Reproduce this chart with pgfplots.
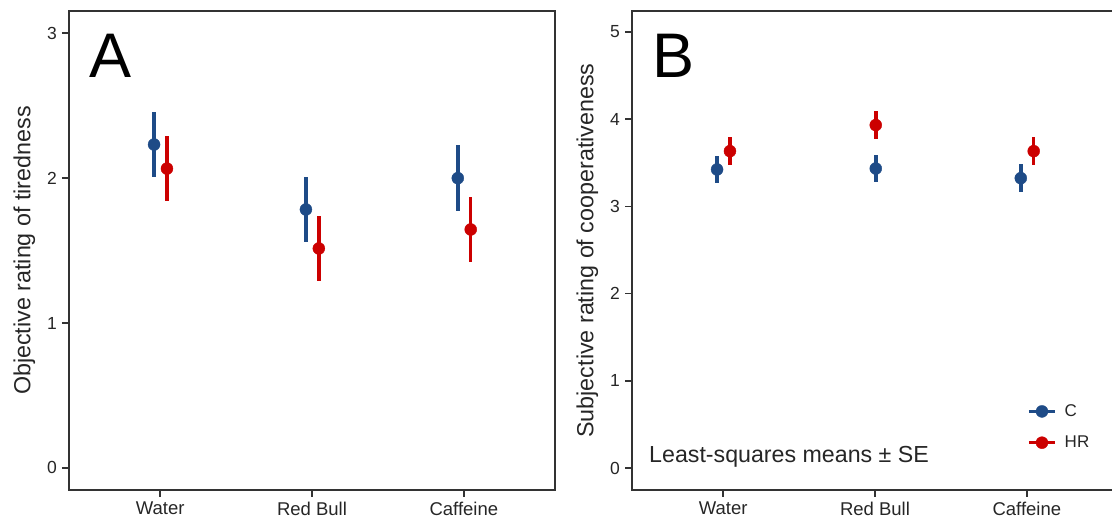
\documentclass[border=0pt]{standalone}
\usepackage{fontspec}
\setmainfont{Liberation Sans}
\usepackage{pgfplots}
\usepackage{pgfplotstable}
\pgfplotsset{compat=1.18}

\definecolor{grpC}{RGB}{30,75,135}
\definecolor{grpHR}{RGB}{204,0,0}
\definecolor{frame}{RGB}{51,51,51}

% Least-squares means and SE; x = category index plus dodge offset
\pgfplotstableread{
x      y     e
-0.040 2.231 0.226
0.960  1.783 0.226
1.960  1.999 0.228
}\tiredC
\pgfplotstableread{
x      y     e
0.045  2.065 0.226
1.045  1.514 0.224
2.045  1.645 0.226
}\tiredHR
\pgfplotstableread{
x      y     e
-0.040 3.423 0.157
1.005  3.434 0.157
1.960  3.323 0.159
}\coopC
\pgfplotstableread{
x      y     e
0.045  3.633 0.159
1.005  3.932 0.157
2.045  3.633 0.161
}\coopHR

\tikzset{panel letter/.style={font=\fontsize{63}{70}\selectfont, inner sep=0pt, anchor=base west}}

\pgfplotsset{
  panel/.style={
    scale only axis, width=486pt, height=479pt,
    axis line style={line width=1.8pt, draw=frame},
    xmin=-0.6, xmax=2.6, xtick={0,1,2},
    xticklabels={Water,Red Bull,Caffeine},
    tick pos=left, tick align=outside, major tick length=7pt,
    tick style={line width=1.4pt, draw=frame},
    xticklabel style={font=\fontsize{18.5}{22}\selectfont, text=black!85, inner sep=5pt},
    yticklabel style={font=\fontsize{17.5}{20}\selectfont, text=black!85, inner sep=5pt},
    /pgf/number format/assume math mode=true,
    every axis y label/.style={at={(axis description cs:-0.092,0.5)},
      rotate=90, anchor=center, font=\fontsize{23.3}{27}\selectfont, text=black!85},
    clip=false,
  },
  pr/.style={color=#1, only marks, mark=*, mark size=6pt,
    mark options={fill=#1, draw=#1, line width=0.4pt},
    error bars/y dir=both, error bars/y explicit, error bars/error mark=none,
    error bars/error bar style={line width=3.5pt, color=#1}},
}

\begin{document}
\begin{tikzpicture}
\useasboundingbox (0,0) rectangle (1112pt,522pt);

% Panel A: objective tiredness
\begin{axis}[panel, at={(69pt,32pt)}, anchor=south west,
  ymin=-0.152, ymax=3.152, ytick={0,1,2,3},
  ylabel={Objective rating of tiredness}]
  \addplot+[forget plot, pr=grpC] table[x=x, y=y, y error=e] {\tiredC};
  \addplot+[forget plot, pr=grpHR] table[x=x, y=y, y error=e] {\tiredHR};
  \node[panel letter] at (rel axis cs:0.041,0.862) {A};
\end{axis}

% Panel B: subjective cooperativeness
\begin{axis}[panel, at={(632pt,32pt)}, anchor=south west,
  ymin=-0.252, ymax=5.24, ytick={0,1,2,3,4,5},
  ylabel={Subjective rating of cooperativeness},
  legend image code/.code={\draw[mark repeat=2, mark phase=2, #1]
    plot coordinates {(0pt,0pt) (13pt,0pt) (26pt,0pt)};},
  legend style={draw=none, fill=none, inner sep=0pt,
    at={(rel axis cs:0.8128,0.1315)}, anchor=west,
    row sep=18pt, column sep=8pt,
    nodes={inner sep=0pt},
    font=\fontsize{17}{20}\selectfont, text=black!85},
  legend cell align=left]
  \addplot+[forget plot, pr=grpC] table[x=x, y=y, y error=e] {\coopC};
  \addplot+[forget plot, pr=grpHR] table[x=x, y=y, y error=e] {\coopHR};
  \addlegendimage{color=grpC, line width=3.5pt, mark=*, mark size=6pt,
    mark options={fill=grpC, line width=0.4pt}}
  \addlegendentry{C}
  \addlegendimage{color=grpHR, line width=3.5pt, mark=*, mark size=6pt,
    mark options={fill=grpHR, line width=0.4pt}}
  \addlegendentry{HR}
  \node[panel letter] at (rel axis cs:0.041,0.862) {B};
  \node[font=\fontsize{23.2}{27}\selectfont, inner sep=0pt, anchor=base west,
    text=black!85] at (rel axis cs:0.035,0.0564) {Least-squares means ± SE};
\end{axis}
\end{tikzpicture}
\end{document}
